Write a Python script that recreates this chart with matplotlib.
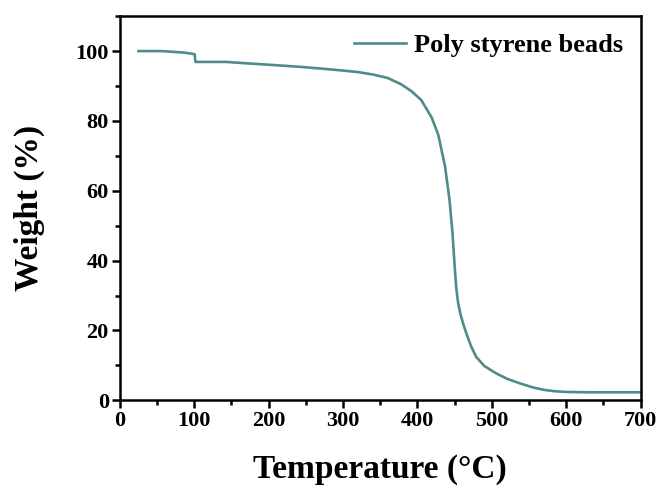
import matplotlib
matplotlib.use("Agg")
import matplotlib.pyplot as plt
from matplotlib.ticker import MultipleLocator

# TGA curve
temperature = [25, 40, 56, 70, 85, 95, 100.5, 101.5, 120, 143, 170, 200, 242,
               270, 296, 320, 340, 360, 378, 392, 405, 419, 428, 437, 443,
               447, 450, 452, 454.5, 458, 462, 466, 472, 479, 490, 506, 520,
               537, 555, 570, 585, 600, 630, 660, 700]
weight = [100.0, 100.0, 100.0, 99.8, 99.6, 99.3, 99.1, 96.9, 96.9, 96.9, 96.5,
          96.1, 95.5, 95.0, 94.5, 94.0, 93.3, 92.3, 90.5, 88.5, 86.0, 81.0,
          76.0, 67.0, 57.5, 48.0, 38.3, 32.5, 28.0, 24.5, 21.5, 19.0, 15.5,
          12.4, 9.8, 7.7, 6.2, 4.9, 3.7, 3.0, 2.6, 2.4, 2.3, 2.3, 2.3]

LINE = "#4e8b8a"

plt.rcParams.update({
    "font.family": "Liberation Serif",
    "font.weight": "bold",
})

fig, ax = plt.subplots(figsize=(6.66, 4.9), dpi=100)
fig.subplots_adjust(left=0.18, right=0.962, top=0.967, bottom=0.183)

ax.plot(temperature, weight, color=LINE, lw=1.9, label="Poly styrene beads")

ax.set_xlim(0, 700)
ax.set_ylim(0, 110)
ax.xaxis.set_major_locator(MultipleLocator(100))
ax.xaxis.set_minor_locator(MultipleLocator(50))
ax.yaxis.set_minor_locator(MultipleLocator(10))
ax.set_yticks([0, 20, 40, 60, 80, 100])

for s in ax.spines.values():
    s.set_linewidth(1.8)
ax.tick_params(which="major", direction="out", length=6, width=1.8,
               labelsize=16, pad=2)
ax.tick_params(which="minor", direction="out", length=3.5, width=1.8)
for lab in ax.get_xticklabels() + ax.get_yticklabels():
    lab.set_fontweight("bold")

ax.set_xlabel("Temperature (\u00b0C)", fontsize=24, fontweight="bold", labelpad=16)
ax.set_ylabel("Weight (%)", fontsize=24, fontweight="bold", labelpad=22)

ax.legend(loc="upper right", frameon=False, handlelength=2.0,
          handletextpad=0.3, borderaxespad=0.25,
          prop={"weight": "bold", "size": 19})

fig.savefig("out.png", dpi=100)
